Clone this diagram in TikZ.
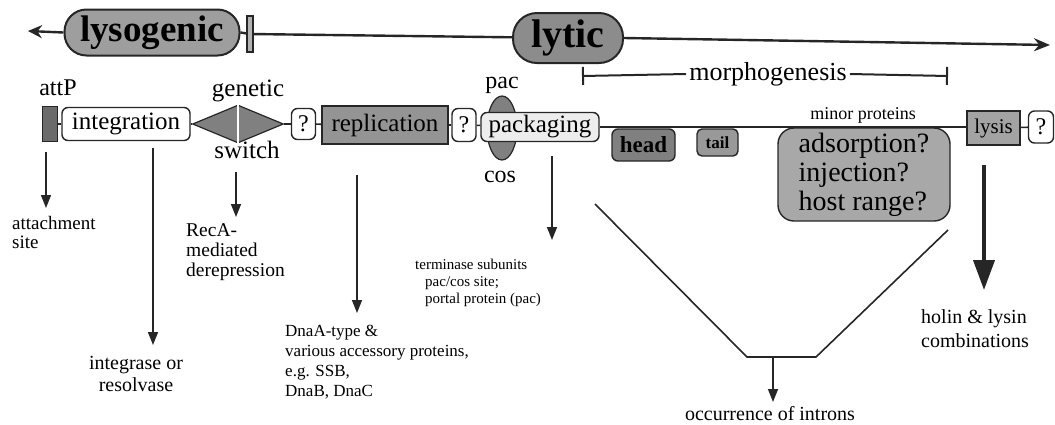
\documentclass[tikz,border=0pt]{standalone}
\usepackage{fontspec}
\setmainfont{Liberation Serif}
\usetikzlibrary{arrows.meta,shapes.geometric}
\newcommand{\fsz}[1]{\fontsize{#1}{#1}\selectfont}
\definecolor{lnc}{gray}{0.15}
\definecolor{glyso}{gray}{0.62}
\definecolor{glytic}{gray}{0.55}
\definecolor{grepl}{gray}{0.58}
\definecolor{ghead}{gray}{0.5}
\definecolor{gtail}{gray}{0.6}
\definecolor{gads}{gray}{0.66}
\definecolor{glys}{gray}{0.64}
\definecolor{gatt}{gray}{0.42}
\definecolor{gsw}{gray}{0.5}
\definecolor{gell}{gray}{0.5}
\definecolor{gpack}{gray}{0.93}
\tikzset{
  topln/.style={line width=2.4pt, draw=lnc},
  pill/.style={draw=lnc, line width=2pt, inner sep=0pt},
  ln/.style={line width=1.6pt, draw=lnc},
  bx/.style={draw=lnc, line width=1.4pt, inner sep=0pt, font=\fsz{25}},
  rbx/.style={bx, rounded corners=6pt},
  arr/.style={line width=1.5pt, draw=lnc, -{Triangle[length=13pt,width=10pt]}},
  bigarr/.style={line width=4pt, draw=lnc, -{Triangle[length=30pt,width=21pt]}},
  note/.style={inner sep=0pt, align=left, anchor=north west},
  lab/.style={inner sep=0pt, anchor=base},
}
\begin{document}
\begin{tikzpicture}[x=1pt,y=-1pt]
\useasboundingbox (0,0) rectangle (1055,424);

% ---- top time line ----
\coordinate (L) at (28,31);
\coordinate (R) at (1050,45);
\node[pill, rounded corners=22pt, minimum width=175pt, minimum height=46pt, fill=glyso, font=\bfseries\fsz{37}] (lyso) at (152,32.5) {lysogenic};
\node[draw=lnc, line width=1.2pt, fill=gray!60, minimum width=6pt, minimum height=36pt, inner sep=0pt] (bar) at (250,34) {};
\node[pill, rounded corners=24pt, minimum width=110pt, minimum height=50pt, fill=glytic, font=\bfseries\fsz{40}] (lytic) at (568,38) {lytic};
\draw[topln, -{Stealth[length=14pt,width=13pt]}] (lyso.west) -- (L);
\draw[topln] (lyso.east) -- (bar);
\draw[topln] (bar) -- (lytic);
\draw[topln, -{Stealth[length=16pt,width=13pt]}] (lytic.east) -- (R);

% ---- morphogenesis bracket ----
\coordinate (m1) at (582,76);
\coordinate (m2) at (948,76);
\node[inner sep=3pt, font=\fsz{26}] (morph) at (768,74) {morphogenesis};
\draw[line width=2pt, draw=lnc, {Bar[width=18pt]}-] (m1) -- (morph.west);
\draw[line width=2pt, draw=lnc, -{Bar[width=18pt]}] (morph.east) -- (m2);

% ---- main row ----
\node[bx, fill=gatt, minimum width=15pt, minimum height=35pt] (attp) at (50,124) {};
\node[rbx, fill=white, minimum width=128pt, minimum height=33pt] (integ) at (126,124) {integration};
\node[diamond, draw=lnc, line width=1.2pt, fill=gsw, inner sep=0pt, minimum width=91pt, minimum height=38pt] (sw) at (238,124) {};
\draw[white, line width=2.2pt] (sw.north) -- (sw.south);
\node[rbx, fill=white, minimum width=24pt, minimum height=31pt, font=\fsz{24}] (q1) at (303.5,124) {?};
\node[bx, fill=grepl, minimum width=126pt, minimum height=38pt] (repl) at (385,125) {replication};
\node[rbx, fill=white, minimum width=24pt, minimum height=33pt, font=\fsz{24}] (q2) at (464,125) {?};
\node[ellipse, draw=lnc, line width=1.2pt, fill=gell, inner sep=0pt, minimum width=30pt, minimum height=64pt] (ell) at (502,128) {};
\node[rbx, fill=gpack, minimum width=118pt, minimum height=29pt] (pack) at (540,127) {packaging};
\node[rbx, fill=ghead, minimum width=63pt, minimum height=32pt, font=\bfseries\fsz{23}] (head) at (643.5,145) {head};
\node[rbx, fill=gtail, rounded corners=5pt, minimum width=41pt, minimum height=27pt, font=\bfseries\fsz{17}] (tail) at (717.5,142.5) {tail};
\node[rbx, fill=gads, rounded corners=16pt, minimum width=172pt, minimum height=93pt, align=left, font=\fontsize{28}{29}\selectfont] (ads) at (864,174.5) {adsorption?\\injection?\\host range?};
\node[bx, fill=glys, minimum width=53pt, minimum height=34pt, font=\fsz{21}] (lysis) at (993.5,128) {lysis};
\node[rbx, fill=white, minimum width=25pt, minimum height=32pt, font=\fsz{24}] (q3) at (1041,127) {?};

\draw[ln] (attp) -- (integ);
\draw[ln] (integ) -- (sw);
\draw[ln] (sw) -- (q1);
\draw[ln] (q1) -- (repl);
\draw[ln] (repl) -- (q2);
\draw[ln] (q2) -- (pack);
\draw[ln] (pack.east) -- (pack.east -| lysis.west);
\draw[ln] (lysis) -- (q3);

% ---- row labels ----
\node[lab, font=\fsz{24}] (attpl) at (58,95) {attP};
\node[lab, font=\fsz{25}] (genl) at (248,96) {genetic};
\node[lab, font=\fsz{25}] (swl) at (247,158) {switch};
\node[lab, font=\fsz{24}] (pacl) at (502,88) {pac};
\node[lab, font=\fsz{24}] (cosl) at (500,182) {cos};
\node[lab, font=\fsz{18}] (minor) at (863,119) {minor proteins};

% ---- lower notes ----
\node[note, font=\fsz{19}] (attach) at (12,216.5) {attachment\\site};
\node[inner sep=0pt, align=center, anchor=north, font=\fontsize{20}{22}\selectfont] (intgr) at (136,356) {integrase or\\resolvase};
\node[note, font=\fontsize{19.5}{20}\selectfont] (reca) at (186,223) {RecA-\\mediated\\derepression};
\node[note, font=\fontsize{17}{20}\selectfont] (dnaa) at (285,325) {DnaA-type \&\\various accessory proteins,\\e.g. SSB,\\DnaB, DnaC};
\node[note, font=\fontsize{15}{17}\selectfont] (term) at (415,259) {terminase subunits\\\hspace*{10pt}pac/cos site;\\\hspace*{10pt}portal protein (pac)};
\node[note, font=\fontsize{20}{24}\selectfont] (holin) at (921,309) {holin \& lysin\\combinations};
\node[lab, font=\fsz{20}] (intr) at (770,420) {occurrence of introns};

% ---- down arrows ----
\coordinate (a1) at (46,152);
\coordinate (a2) at (153,148);
\coordinate (a3) at (236,172);
\coordinate (a4) at (357,175);
\coordinate (a5) at (552,156);
\coordinate (a6) at (984,165);
\draw[arr] (a1) -- (a1 |- 0,208);
\draw[arr] (a2) -- (a2 |- 0,345);
\draw[arr] (a3) -- (a3 |- 0,217);
\draw[arr] (a4) -- (a4 |- 0,313);
\draw[arr] (a5) -- (a5 |- 0,240);
\draw[bigarr] (a6) -- (a6 |- 0,290);

% ---- introns funnel ----
\coordinate (t1) at (595,204);
\coordinate (t2) at (747,357);
\coordinate (t3) at (816,357);
\coordinate (t4) at (948,230);
\coordinate (t5) at (773,357);
\draw[line width=1.6pt, draw=lnc] (t1) -- (t2) -- (t3) -- (t4);
\draw[arr] (t5) -- (t5 |- 0,402);
\end{tikzpicture}
\end{document}
